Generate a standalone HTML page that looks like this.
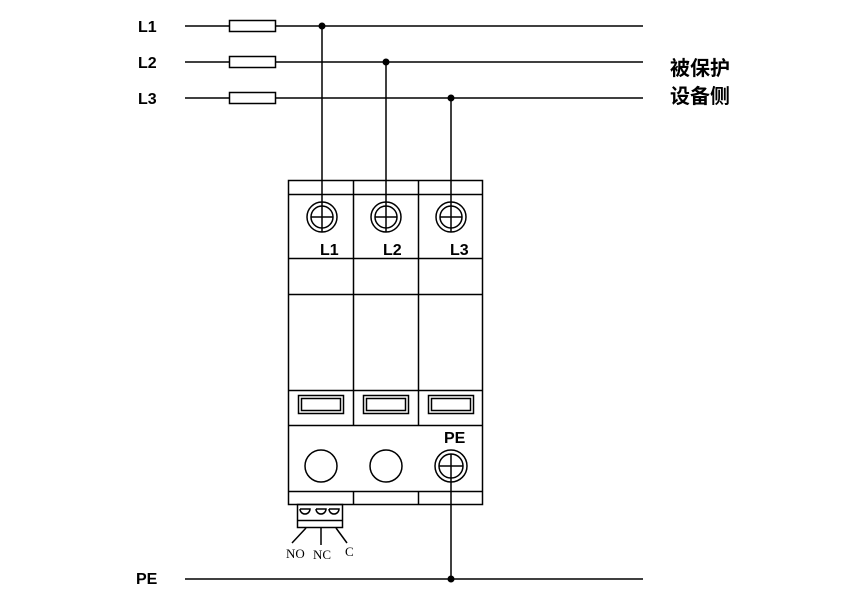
<!DOCTYPE html>
<html><head><meta charset="utf-8"><style>body{margin:0;background:#fff}svg{display:block}</style></head><body>
<svg width="842" height="596" viewBox="0 0 842 596" xmlns="http://www.w3.org/2000/svg" font-family="Liberation Sans, sans-serif">
<g stroke="#000" stroke-width="1.5" fill="none">
<line x1="185" y1="26" x2="643" y2="26"/>
<line x1="185" y1="62" x2="643" y2="62"/>
<line x1="185" y1="98" x2="643" y2="98"/>
<line x1="185" y1="579" x2="643" y2="579"/>
<rect x="229.5" y="20.5" width="46" height="11" fill="#fff"/>
<rect x="229.5" y="56.5" width="46" height="11" fill="#fff"/>
<rect x="229.5" y="92.5" width="46" height="11" fill="#fff"/>
<rect x="288.5" y="180.5" width="194" height="324"/>
<line x1="353.5" y1="180" x2="353.5" y2="425"/>
<line x1="418.5" y1="180" x2="418.5" y2="425"/>
<line x1="288" y1="194.5" x2="482" y2="194.5"/>
<line x1="288" y1="258.5" x2="482" y2="258.5"/>
<line x1="288" y1="294.5" x2="482" y2="294.5"/>
<line x1="288" y1="390.5" x2="482" y2="390.5"/>
<line x1="288" y1="425.5" x2="482" y2="425.5"/>
<line x1="288" y1="491.5" x2="482" y2="491.5"/>
<line x1="353.5" y1="491" x2="353.5" y2="505"/>
<line x1="418.5" y1="491" x2="418.5" y2="505"/>
<rect x="298.5" y="395.5" width="45" height="18"/>
<rect x="301.5" y="398.5" width="39" height="12"/>
<rect x="363.5" y="395.5" width="45" height="18"/>
<rect x="366.5" y="398.5" width="39" height="12"/>
<rect x="428.5" y="395.5" width="45" height="18"/>
<rect x="431.5" y="398.5" width="39" height="12"/>
<circle cx="322" cy="217" r="15"/><circle cx="322" cy="217" r="11"/>
<circle cx="386" cy="217" r="15"/><circle cx="386" cy="217" r="11"/>
<circle cx="451" cy="217" r="15"/><circle cx="451" cy="217" r="11"/>
<line x1="311" y1="217" x2="333" y2="217"/><line x1="375" y1="217" x2="397" y2="217"/><line x1="440" y1="217" x2="462" y2="217"/>
<circle cx="321" cy="466" r="16"/><circle cx="386" cy="466" r="16"/>
<circle cx="451" cy="466" r="16"/><circle cx="451" cy="466" r="12"/>
<line x1="439" y1="466" x2="463" y2="466"/>
<line x1="322" y1="26" x2="322" y2="232"/>
<line x1="386" y1="62" x2="386" y2="232"/>
<line x1="451" y1="98" x2="451" y2="232"/>
<line x1="451" y1="454" x2="451" y2="579"/>
<rect x="297.5" y="504.5" width="45" height="23"/>
<line x1="297" y1="520.5" x2="342" y2="520.5"/>
<path d="M300 509 h10 a5 5 0 0 1 -10 0 M316 509 h10 a5 5 0 0 1 -10 0 M329 509 h10 a5 5 0 0 1 -10 0"/>
<line x1="306" y1="528" x2="292" y2="543"/>
<line x1="321" y1="528" x2="321" y2="545"/>
<line x1="336" y1="528" x2="347" y2="543"/>
</g>
<g fill="#000">
<circle cx="322" cy="26" r="3.5"/><circle cx="386" cy="62" r="3.5"/><circle cx="451" cy="98" r="3.5"/><circle cx="451" cy="579" r="3.5"/>
</g>
<g font-weight="bold" font-size="16" fill="#000">
<text x="138" y="32">L1</text><text x="138" y="68">L2</text><text x="138" y="104">L3</text>
<text x="136" y="584">PE</text>
<text x="320" y="255">L1</text><text x="383" y="255">L2</text><text x="450" y="255">L3</text>
<text x="444" y="443">PE</text>
</g>
<g font-family="Liberation Serif, serif" font-size="13" fill="#000">
<text x="286" y="558">NO</text><text x="313" y="559">NC</text><text x="345" y="556">C</text>
</g>
<g font-family="Liberation Sans, Noto Sans CJK SC, sans-serif" font-size="20" font-weight="bold" fill="#000">
<text x="670" y="75">被保护</text><text x="670" y="103">设备侧</text>
</g>
</svg>
</body></html>
